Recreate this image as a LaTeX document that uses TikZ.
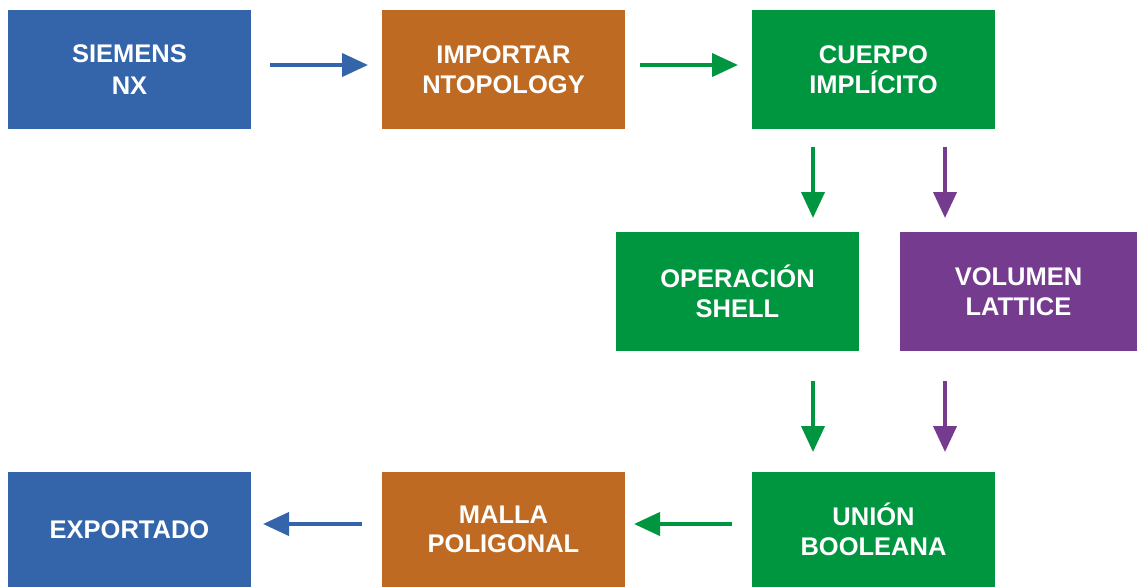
\documentclass[tikz,border=0pt]{standalone}
\usepackage{fontspec}
\setmainfont{Liberation Sans}
\usetikzlibrary{arrows.meta}
\definecolor{cblue}{RGB}{52,101,171}
\definecolor{corange}{RGB}{190,106,34}
\definecolor{cgreen}{RGB}{0,150,64}
\definecolor{cpurple}{RGB}{117,59,142}
\begin{document}
\begin{tikzpicture}[x=1pt,y=-1pt,
  box/.style={fill=#1, draw=none, text=white, minimum width=243pt, minimum height=119pt,
    inner sep=0pt, align=center, font=\fontsize{25.5}{29.5}\selectfont\bfseries},
  arr/.style={draw=#1, line width=4pt, -{Triangle[length=26pt,width=23pt]}}]
\useasboundingbox (0,0) rectangle (1137,587);
\node[box=cblue, font=\fontsize{25.5}{31.5}\selectfont\bfseries] (siemens) at (129.5,69.5) {SIEMENS\\NX};
\node[box=corange] (import)  at (503.5,69.5) {IMPORTAR\\NTOPOLOGY};
\node[box=cgreen]  (cuerpo)  at (873.5,69.5) {CUERPO\\IMPLÍCITO};
\node[box=cgreen]  (shell)   at (737.5,291.5) {OPERACIÓN\\SHELL};
\node[box=cpurple, minimum width=237pt] (lattice) at (1018.5,291.5) {VOLUMEN\\LATTICE};
\node[box=cblue, minimum height=115pt]   (export) at (129.5,529.5) {EXPORTADO};
\node[box=corange, minimum height=115pt] (malla)  at (503.5,529.5) {MALLA\\POLIGONAL};
\node[box=cgreen, minimum height=115pt]  (union)  at (873.5,529.5) {UNIÓN\\BOOLEANA};
% arrow end points
\coordinate (a1s) at (270,65);  \coordinate (a1e) at (368,65);
\coordinate (a2s) at (640,65);  \coordinate (a2e) at (738,65);
\coordinate (a3s) at (813,147); \coordinate (a3e) at (813,218);
\coordinate (a4s) at (945,147); \coordinate (a4e) at (945,218);
\coordinate (a5s) at (813,381); \coordinate (a5e) at (813,452);
\coordinate (a6s) at (945,381); \coordinate (a6e) at (945,452);
\coordinate (a7s) at (732,524); \coordinate (a7e) at (634,524);
\coordinate (a8s) at (362,524); \coordinate (a8e) at (263,524);
\draw[arr=cblue]   (a1s) -- (a1e);
\draw[arr=cgreen]  (a2s) -- (a2e);
\draw[arr=cgreen]  (a3s) -- (a3e);
\draw[arr=cpurple] (a4s) -- (a4e);
\draw[arr=cgreen]  (a5s) -- (a5e);
\draw[arr=cpurple] (a6s) -- (a6e);
\draw[arr=cgreen]  (a7s) -- (a7e);
\draw[arr=cblue]   (a8s) -- (a8e);
\end{tikzpicture}
\end{document}
